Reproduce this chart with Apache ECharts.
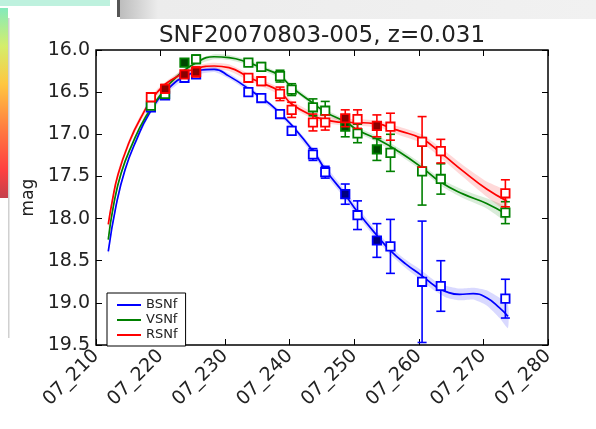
<!DOCTYPE html>
<html><head><meta charset="utf-8">
<script src="https://cdn.jsdelivr.net/npm/echarts@6/dist/echarts.min.js"></script>
<style>html,body{margin:0;padding:0;background:#fff}#c{width:596px;height:429px}</style>
</head><body><div id="c"></div>
<script>
// ---- observation epochs (day number, axis labelled 07_xxx) ----
const obsDays = [218.5, 220.7, 223.7, 225.5, 233.6, 235.6, 238.5, 240.3, 243.6, 245.5, 248.6, 250.5, 253.5, 255.6, 260.5, 263.4, 273.4];
// ---- photometry per band ----
const bMag = [16.68, 16.54, 16.33, 16.29, 16.50, 16.57, 16.76, 16.96, 17.24, 17.45, 17.71, 17.96, 18.26, 18.33, 18.75, 18.80, 18.95];
const bErr = [0.04, 0.04, 0.04, 0.04, 0.04, 0.04, 0.05, 0.05, 0.07, 0.07, 0.12, 0.17, 0.20, 0.32, 0.72, 0.30, 0.23];
const vMag = [16.66, 16.52, 16.15, 16.11, 16.15, 16.20, 16.31, 16.47, 16.68, 16.72, 16.91, 16.99, 17.18, 17.22, 17.44, 17.53, 17.93];
const vErr = [0.04, 0.04, 0.04, 0.05, 0.04, 0.05, 0.07, 0.07, 0.10, 0.11, 0.12, 0.11, 0.13, 0.22, 0.40, 0.18, 0.13];
const rMag = [16.56, 16.46, 16.29, 16.26, 16.33, 16.37, 16.52, 16.71, 16.86, 16.86, 16.81, 16.82, 16.90, 16.91, 17.09, 17.20, 17.70];
const rErr = [0.05, 0.05, 0.04, 0.06, 0.04, 0.05, 0.08, 0.09, 0.10, 0.09, 0.10, 0.11, 0.13, 0.16, 0.30, 0.14, 0.16];
const bFilled = [10, 12];
const vFilled = [2, 10, 12];
const rFilled = [1, 2, 3, 10, 12];
// ---- model light curves ----
const bCurveX = [211.9, 213.1, 214.5, 216.3, 218.2, 220.8, 224.4, 228.3, 230.6, 233.6, 238.4, 243.6, 245.6, 248.6, 250.5, 253.5, 255.6, 258.0, 260.5, 262.5, 264.3, 266.3, 268.4, 270.5, 272.5, 273.8];
const bCurveY = [18.39, 17.85, 17.42, 17.06, 16.76, 16.49, 16.29, 16.23, 16.31, 16.46, 16.74, 17.20, 17.43, 17.72, 17.92, 18.20, 18.38, 18.54, 18.68, 18.80, 18.87, 18.90, 18.89, 18.94, 19.06, 19.16];
const bCurveW = [0.04, 0.04, 0.03, 0.03, 0.03, 0.03, 0.03, 0.03, 0.03, 0.03, 0.03, 0.04, 0.05, 0.05, 0.05, 0.05, 0.05, 0.05, 0.06, 0.06, 0.07, 0.07, 0.07, 0.09, 0.12, 0.14];
const vCurveX = [211.9, 212.7, 213.9, 215.6, 217.7, 220.3, 222.6, 225.5, 228.3, 230.6, 233.6, 235.6, 238.4, 240.3, 243.6, 245.6, 248.8, 250.5, 253.9, 257.0, 260.4, 263.4, 266.9, 270.5, 273.6];
const vCurveY = [18.25, 17.85, 17.46, 17.12, 16.79, 16.50, 16.31, 16.15, 16.08, 16.09, 16.15, 16.21, 16.30, 16.44, 16.63, 16.74, 16.86, 16.95, 17.07, 17.21, 17.39, 17.57, 17.71, 17.82, 17.95];
const vCurveW = [0.04, 0.04, 0.03, 0.03, 0.03, 0.03, 0.03, 0.03, 0.03, 0.03, 0.03, 0.03, 0.03, 0.03, 0.03, 0.03, 0.03, 0.03, 0.04, 0.04, 0.04, 0.04, 0.05, 0.06, 0.08];
const rCurveX = [211.9, 212.5, 213.4, 215.0, 216.9, 219.5, 222.9, 225.5, 228.3, 230.6, 233.6, 235.6, 238.4, 240.3, 243.6, 245.6, 248.8, 250.5, 253.9, 255.7, 257.0, 260.4, 263.4, 266.9, 270.5, 273.6];
const rCurveY = [18.07, 17.80, 17.48, 17.12, 16.81, 16.50, 16.30, 16.22, 16.19, 16.21, 16.32, 16.39, 16.49, 16.64, 16.78, 16.83, 16.86, 16.86, 16.88, 16.93, 16.96, 17.05, 17.22, 17.44, 17.65, 17.79];
const rCurveW = [0.05, 0.05, 0.05, 0.04, 0.04, 0.04, 0.04, 0.04, 0.04, 0.04, 0.04, 0.04, 0.04, 0.04, 0.04, 0.04, 0.04, 0.04, 0.04, 0.04, 0.05, 0.05, 0.06, 0.07, 0.09, 0.11];
// ---- axis ticks ----
const xTicks = {min: 210, max: 280, step: 10, prefix: '07_'};
const yTicks = {min: 16.0, max: 19.5, step: 0.5};
const titleText = 'SNF20070803-005, z=0.031';

const FONT = 'DejaVu Sans';
const COL = {B: '#0000ff', V: '#008000', R: '#ff0000'};
const DARK = {B: '#000080', V: '#004800', R: '#8a0000'};

const chart = echarts.init(document.getElementById('c'), null, {renderer: 'canvas'});

function bandSeries(xs, ys, ws, color) {
  return {
    type: 'custom', silent: true, z: 1, clip: true, data: [0],
    renderItem: (params, api) => {
      const up = [], lo = [];
      for (let i = 0; i < xs.length; i++) {
        up.push(api.coord([xs[i], ys[i] - ws[i]]));
        lo.push(api.coord([xs[i], ys[i] + ws[i]]));
      }
      return {type: 'polygon', shape: {points: up.concat(lo.reverse()), smooth: 0.2}, style: {fill: color, opacity: 0.15}};
    }
  };
}
function lineSeries(name, xs, ys, color) {
  return {
    type: 'line', name, z: 3, showSymbol: false, symbol: 'none', smooth: 0.5,
    data: xs.map((x, i) => [x, ys[i]]),
    lineStyle: {color, width: 1.7}, itemStyle: {color}
  };
}
function pointSeries(ys, es, filled, color, dark) {
  return {
    type: 'custom', z: 5, clip: true,
    data: obsDays.map((d, i) => [d, ys[i], es[i], filled.includes(i) ? 1 : 0]),
    encode: {x: 0, y: 1},
    renderItem: (params, api) => {
      const x = api.value(0), y = api.value(1), e = api.value(2), f = api.value(3);
      const t = api.coord([x, y - e]), b = api.coord([x, y + e]), c = api.coord([x, y]);
      const cap = 4.5, s = 4.2, lw = 1.6;
      return {type: 'group', children: [
        {type: 'line', shape: {x1: t[0], y1: t[1], x2: b[0], y2: b[1]}, style: {stroke: color, lineWidth: lw}},
        {type: 'line', shape: {x1: t[0] - cap, y1: t[1], x2: t[0] + cap, y2: t[1]}, style: {stroke: color, lineWidth: lw}},
        {type: 'line', shape: {x1: b[0] - cap, y1: b[1], x2: b[0] + cap, y2: b[1]}, style: {stroke: color, lineWidth: lw}},
        {type: 'rect', shape: {x: c[0] - s, y: c[1] - s, width: 2 * s, height: 2 * s}, style: {fill: f ? dark : '#fff', stroke: color, lineWidth: 1.8}}
      ]};
    }
  };
}

const tickStyle = {inside: true, length: 6, lineStyle: {color: '#000', width: 1}};
const labelFont = {fontFamily: FONT, fontSize: 19, color: '#222'};

const option = {
  animation: false,
  backgroundColor: '#fff',
  grid: {left: 96, right: 48, top: 50, bottom: 84, show: true, borderColor: '#000', borderWidth: 1.5, backgroundColor: 'transparent'},
  legend: {
    data: ['BSNf', 'VSNf', 'RSNf'], orient: 'vertical', left: 107, top: 293,
    icon: 'rect', itemWidth: 24, itemHeight: 2, itemGap: 1,
    padding: [5, 8, 4, 10], borderColor: '#000', borderWidth: 1, backgroundColor: '#fff', borderRadius: 0,
    textStyle: {fontFamily: FONT, fontSize: 13, color: '#222', lineHeight: 14}
  },
  xAxis: [
    {type: 'value', position: 'bottom', min: xTicks.min, max: xTicks.max, interval: xTicks.step,
     axisLine: {show: false}, axisTick: tickStyle, splitLine: {show: false},
     axisLabel: Object.assign({rotate: 45, margin: 8, formatter: v => xTicks.prefix + v}, labelFont)},
    {type: 'value', position: 'top', min: xTicks.min, max: xTicks.max, interval: xTicks.step,
     axisLine: {show: false}, axisTick: tickStyle, splitLine: {show: false}, axisLabel: {show: false}}
  ],
  yAxis: [
    {type: 'value', position: 'left', inverse: true, min: yTicks.min, max: yTicks.max, interval: yTicks.step,
     name: 'mag', nameLocation: 'middle', nameGap: 58, nameRotate: 90,
     nameTextStyle: {fontFamily: FONT, fontSize: 17, color: '#222'},
     axisLine: {show: false}, axisTick: tickStyle, splitLine: {show: false},
     axisLabel: Object.assign({margin: 6, formatter: v => v.toFixed(1)}, labelFont)},
    {type: 'value', position: 'right', inverse: true, min: yTicks.min, max: yTicks.max, interval: yTicks.step,
     axisLine: {show: false}, axisTick: tickStyle, splitLine: {show: false}, axisLabel: {show: false}}
  ],
  graphic: [
    {type: 'rect', z: -10, shape: {x: 120, y: 0, width: 476, height: 19},
     style: {fill: new echarts.graphic.LinearGradient(0, 0, 1, 0, [{offset: 0, color: '#bdbdbd'}, {offset: 0.08, color: '#ececec'}, {offset: 1, color: '#f1f1f1'}])}},
    {type: 'rect', z: -9, shape: {x: 117, y: 0, width: 3, height: 17}, style: {fill: '#555'}},
    {type: 'rect', z: -9, shape: {x: 0, y: 0, width: 110, height: 6}, style: {fill: '#aeeed6', opacity: 0.8}},
    {type: 'rect', z: -9, shape: {x: 0, y: 8, width: 8, height: 190},
     style: {fill: new echarts.graphic.LinearGradient(0, 0, 0, 1, [
       {offset: 0, color: '#5be3a6'}, {offset: 0.2, color: '#c6e83a'}, {offset: 0.4, color: '#ffb400'},
       {offset: 0.65, color: '#ff4a00'}, {offset: 0.85, color: '#ff0000'}, {offset: 1, color: '#b00010'}]), opacity: 0.75}},
    {type: 'rect', z: -9, shape: {x: 8, y: 18, width: 1.5, height: 320}, style: {fill: '#d0d0d0'}},
    {type: 'text', z: 10, x: 322, y: 36,
     style: {text: titleText, fontFamily: FONT, fontSize: 23, fill: '#222', align: 'center', verticalAlign: 'middle'}}
  ],
  series: [
    bandSeries(bCurveX, bCurveY, bCurveW, COL.B),
    bandSeries(vCurveX, vCurveY, vCurveW, COL.V),
    bandSeries(rCurveX, rCurveY, rCurveW, COL.R),
    lineSeries('BSNf', bCurveX, bCurveY, COL.B),
    lineSeries('VSNf', vCurveX, vCurveY, COL.V),
    lineSeries('RSNf', rCurveX, rCurveY, COL.R),
    pointSeries(bMag, bErr, bFilled, COL.B, DARK.B),
    pointSeries(vMag, vErr, vFilled, COL.V, DARK.V),
    pointSeries(rMag, rErr, rFilled, COL.R, DARK.R)
  ]
};
chart.setOption(option);
</script></body></html>
